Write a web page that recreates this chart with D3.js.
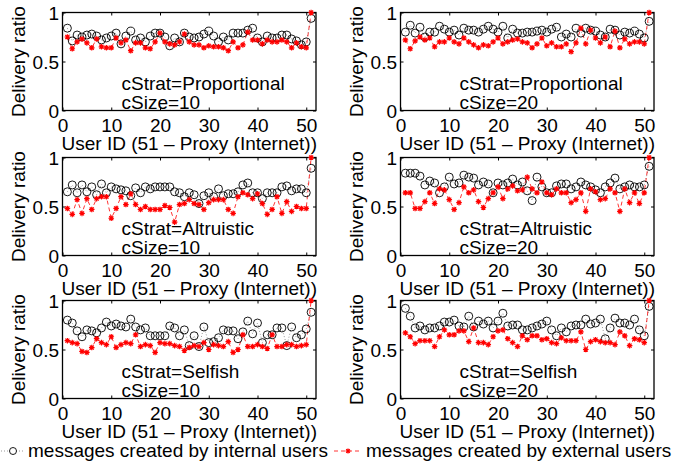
<!DOCTYPE html>
<html>
<head>
<meta charset="utf-8">
<script src="https://cdnjs.cloudflare.com/ajax/libs/d3/7.8.5/d3.min.js"></script>
<style>
  body { margin: 0; background: #fff; }
  text { font-family: "Liberation Sans", Arial, sans-serif; }
</style>
</head>
<body>
<div id="chart"></div>
<script>
// user ids on the x axis (51 = proxy)
var userIds = d3.range(1, 52);

// delivery ratios, one array per panel and series
var internalProp10 = [0.84,0.71,0.77,0.75,0.77,0.78,0.76,0.72,0.74,0.76, 0.79,0.68,0.76,0.81,0.72,0.74,0.70,0.76,0.79,0.79,
  0.75,0.66,0.74,0.70,0.79,0.75,0.74,0.75,0.78,0.81, 0.76,0.70,0.75,0.72,0.79,0.79,0.79,0.82,0.84,0.74,
  0.70,0.76,0.74,0.74,0.77,0.77,0.73,0.71,0.67,0.70, 0.94];
var externalProp10 = [0.75,0.63,0.70,0.73,0.69,0.64,0.73,0.65,0.64,0.64, 0.74,0.69,0.72,0.61,0.69,0.69,0.64,0.63,0.70,0.79,
  0.70,0.68,0.67,0.70,0.78,0.70,0.67,0.67,0.64,0.66, 0.65,0.65,0.64,0.61,0.70,0.64,0.67,0.80,0.72,0.72,
  0.68,0.72,0.70,0.70,0.72,0.70,0.64,0.69,0.65,0.64, 1.0];

var internalProp20 = [0.80,0.87,0.79,0.85,0.75,0.80,0.80,0.86,0.83,0.80, 0.82,0.77,0.84,0.82,0.82,0.80,0.83,0.86,0.83,0.80,
  0.86,0.74,0.83,0.79,0.79,0.80,0.80,0.81,0.82,0.80, 0.83,0.85,0.75,0.78,0.75,0.84,0.79,0.84,0.82,0.81,
  0.77,0.75,0.83,0.82,0.77,0.80,0.79,0.81,0.78,0.74, 0.91];
var externalProp20 = [0.72,0.63,0.71,0.75,0.72,0.74,0.65,0.70,0.70,0.74, 0.70,0.68,0.74,0.70,0.67,0.64,0.67,0.66,0.70,0.74,
  0.68,0.70,0.72,0.73,0.70,0.69,0.64,0.68,0.74,0.66, 0.69,0.65,0.65,0.68,0.60,0.69,0.84,0.68,0.82,0.74,
  0.69,0.75,0.65,0.81,0.64,0.73,0.68,0.70,0.70,0.68, 1.0];

var internalAlt10 = [0.65,0.72,0.64,0.72,0.65,0.70,0.62,0.73,0.64,0.70, 0.68,0.67,0.66,0.61,0.69,0.64,0.70,0.68,0.70,0.70,
  0.70,0.70,0.65,0.64,0.60,0.64,0.62,0.53,0.61,0.64, 0.60,0.68,0.61,0.63,0.63,0.65,0.72,0.74,0.64,0.64,
  0.58,0.64,0.64,0.64,0.70,0.71,0.66,0.68,0.68,0.64, 0.89];
var externalAlt10 = [0.48,0.42,0.57,0.43,0.58,0.47,0.58,0.60,0.60,0.38, 0.48,0.60,0.52,0.63,0.52,0.47,0.50,0.47,0.47,0.47,
  0.51,0.49,0.34,0.52,0.53,0.57,0.53,0.52,0.47,0.54, 0.57,0.57,0.57,0.47,0.43,0.60,0.64,0.62,0.58,0.63,
  0.53,0.42,0.47,0.60,0.43,0.55,0.45,0.50,0.48,0.48, 1.0];

var internalAlt20 = [0.84,0.84,0.84,0.81,0.72,0.76,0.74,0.64,0.70,0.80, 0.73,0.74,0.82,0.80,0.79,0.72,0.75,0.73,0.64,0.74,
  0.72,0.74,0.78,0.72,0.75,0.66,0.56,0.80,0.70,0.64, 0.64,0.71,0.73,0.73,0.68,0.70,0.75,0.72,0.70,0.67,
  0.64,0.70,0.74,0.79,0.68,0.70,0.72,0.70,0.70,0.72, 0.91];
var externalAlt20 = [0.64,0.64,0.48,0.48,0.55,0.64,0.53,0.68,0.67,0.57, 0.47,0.54,0.70,0.64,0.67,0.55,0.49,0.58,0.64,0.70,
  0.58,0.68,0.71,0.66,0.67,0.80,0.68,0.64,0.75,0.64, 0.62,0.68,0.64,0.64,0.54,0.57,0.64,0.45,0.68,0.65,
  0.57,0.58,0.68,0.64,0.45,0.68,0.54,0.64,0.53,0.64, 1.0];

var internalSelf10 = [0.80,0.77,0.69,0.63,0.70,0.69,0.67,0.72,0.78,0.74, 0.76,0.74,0.73,0.81,0.73,0.70,0.72,0.64,0.64,0.64,
  0.64,0.74,0.72,0.64,0.70,0.54,0.64,0.53,0.73,0.57, 0.58,0.62,0.70,0.69,0.69,0.61,0.68,0.79,0.66,0.77,
  0.57,0.65,0.65,0.72,0.72,0.54,0.73,0.62,0.65,0.71, 0.88];
var externalSelf10 = [0.59,0.57,0.56,0.48,0.47,0.52,0.61,0.57,0.55,0.63, 0.52,0.55,0.57,0.56,0.65,0.53,0.55,0.54,0.47,0.57,
  0.56,0.56,0.54,0.53,0.49,0.52,0.54,0.53,0.57,0.50, 0.55,0.54,0.53,0.58,0.47,0.50,0.65,0.53,0.53,0.55,
  0.53,0.51,0.65,0.53,0.53,0.55,0.55,0.53,0.54,0.55, 1.0];

var internalSelf20 = [0.92,0.84,0.72,0.74,0.70,0.72,0.72,0.74,0.78,0.78, 0.80,0.74,0.73,0.84,0.73,0.79,0.76,0.79,0.72,0.79,
  0.87,0.74,0.75,0.75,0.70,0.70,0.72,0.74,0.76,0.79, 0.70,0.64,0.72,0.68,0.74,0.75,0.75,0.81,0.76,0.77,
  0.81,0.61,0.72,0.82,0.77,0.77,0.75,0.81,0.70,0.64, 0.94];
var externalSelf20 = [0.67,0.63,0.56,0.59,0.59,0.59,0.53,0.63,0.70,0.65, 0.65,0.69,0.69,0.58,0.72,0.57,0.57,0.55,0.63,0.69,
  0.70,0.61,0.57,0.53,0.64,0.60,0.64,0.64,0.60,0.61, 0.57,0.56,0.62,0.59,0.59,0.59,0.68,0.50,0.58,0.60,
  0.58,0.57,0.57,0.55,0.68,0.64,0.54,0.61,0.60,0.57, 1.0];

var stratLabels = ['Proportional', 'Proportional', 'Altruistic', 'Altruistic', 'Selfish', 'Selfish'];
var sizeLabels = [10, 20, 10, 20, 10, 20];
var internalSeries = [internalProp10, internalProp20, internalAlt10, internalAlt20, internalSelf10, internalSelf20];
var externalSeries = [externalProp10, externalProp20, externalAlt10, externalAlt20, externalSelf10, externalSelf20];

var xTicks = [0, 10, 20, 30, 40, 50];
var yTicks = [0, 0.5, 1];

// canvas
var svg_width = 678,
    svg_height = 466,
    col_left = [62.5, 400.5],
    row_top = [12.5, 157.5, 300.5],
    plot_w = 253.5,
    plot_h = 98,
    font_size = 19;

var svg = d3.select('#chart')
  .append('svg')
  .attr('width', svg_width)
  .attr('height', svg_height);

// matlab style asterisk
function starPath(s) {
  var a = s * 0.72;
  return 'M' + (-s) + ',0L' + s + ',0M0,' + (-s) + 'L0,' + s +
    'M' + (-a) + ',' + (-a) + 'L' + a + ',' + a + 'M' + (-a) + ',' + a + 'L' + a + ',' + (-a);
}

function drawPanel(p) {
  var pl = col_left[p % 2],
      pt = row_top[Math.floor(p / 2)];

  var x = d3.scaleLinear().domain([0, 52]).range([pl, pl + plot_w]);
  var y = d3.scaleLinear().domain([0, 1]).range([pt + plot_h, pt]);

  var g = svg.append('g').classed('panel', true);

  // box
  g.append('rect')
    .attr('x', pl)
    .attr('y', pt)
    .attr('width', plot_w)
    .attr('height', plot_h)
    .attr('fill', 'none')
    .attr('stroke', 'black')
    .attr('stroke-width', 1.3);

  // axes with inward ticks
  g.append('g')
    .attr('transform', 'translate(0,' + (pt + plot_h) + ')')
    .call(d3.axisBottom(x).tickValues(xTicks).tickSizeInner(-3).tickSizeOuter(0).tickPadding(8.5));
  var yAxis = g.append('g')
    .attr('transform', 'translate(' + pl + ',0)')
    .call(d3.axisLeft(y).tickValues(yTicks).tickSizeInner(-3).tickSizeOuter(0).tickPadding(3.5)
      .tickFormat(function (d) { return String(d); }));
  g.append('g')
    .attr('transform', 'translate(0,' + pt + ')')
    .call(d3.axisTop(x).tickValues(xTicks).tickSizeInner(-3).tickSizeOuter(0).tickFormat(''));
  g.append('g')
    .attr('transform', 'translate(' + (pl + plot_w) + ',0)')
    .call(d3.axisRight(y).tickValues(yTicks).tickSizeInner(-3).tickSizeOuter(0).tickFormat(''));

  g.selectAll('.domain').remove();
  g.selectAll('.tick line').attr('stroke', 'black').attr('stroke-width', 1);
  g.selectAll('.tick text')
    .attr('fill', 'black')
    .style('font-size', font_size + 'px')
    .style('font-family', '"Liberation Sans", Arial, sans-serif');
  yAxis.selectAll('.tick text').attr('dy', '0.38em');

  // axis titles
  g.append('text')
    .attr('x', pl + plot_w / 2)
    .attr('y', pt + plot_h + 39)
    .attr('text-anchor', 'middle')
    .style('font-size', font_size + 'px')
    .text('User ID (51 \u2013 Proxy (Internet))');
  g.append('text')
    .attr('transform', 'translate(' + (pl - 37.5) + ',' + (pt + plot_h / 2) + ') rotate(-90)')
    .attr('text-anchor', 'middle')
    .style('font-size', font_size + 'px')
    .text('Delivery ratio');

  var internal = internalSeries[p],
      external = externalSeries[p];

  var line = d3.line()
    .x(function (d, i) { return x(userIds[i]); })
    .y(function (d) { return y(d); });

  // internal users: dotted line + circles
  g.append('path')
    .datum(internal)
    .attr('d', line)
    .attr('fill', 'none')
    .attr('stroke', '#555')
    .attr('stroke-width', 0.6)
    .attr('stroke-dasharray', '1,2');

  // external users: red dashed line + asterisks
  g.append('path')
    .datum(external)
    .attr('d', line)
    .attr('fill', 'none')
    .attr('stroke', 'red')
    .attr('stroke-width', 0.8)
    .attr('stroke-dasharray', '4,3');

  g.selectAll('.circ')
    .data(internal)
    .enter().append('circle')
    .attr('cx', function (d, i) { return x(userIds[i]); })
    .attr('cy', function (d) { return y(d); })
    .attr('r', 4)
    .attr('fill', 'none')
    .attr('stroke', 'black')
    .attr('stroke-width', 0.9);

  g.selectAll('.star')
    .data(external)
    .enter().append('path')
    .attr('d', starPath(2.8))
    .attr('transform', function (d, i) { return 'translate(' + x(userIds[i]) + ',' + y(d) + ')'; })
    .attr('fill', 'none')
    .attr('stroke', 'red')
    .attr('stroke-width', 1.2);

  // annotation
  g.append('text')
    .attr('x', pl + 59)
    .attr('y', pt + plot_h - 21)
    .style('font-size', font_size + 'px')
    .text('cStrat=' + stratLabels[p]);
  g.append('text')
    .attr('x', pl + 59)
    .attr('y', pt + plot_h - 1.5)
    .style('font-size', font_size + 'px')
    .text('cSize=' + sizeLabels[p]);
}

for (var p = 0; p < 6; p++) drawPanel(p);

// legend
var legend = svg.append('g').classed('legend', true);
var ly = 451;
legend.append('line')
  .attr('x1', 1).attr('x2', 25).attr('y1', ly).attr('y2', ly)
  .attr('stroke', '#555').attr('stroke-width', 0.6).attr('stroke-dasharray', '1,2');
legend.append('circle')
  .attr('cx', 13).attr('cy', ly).attr('r', 3.5)
  .attr('fill', 'white').attr('stroke', 'black').attr('stroke-width', 0.9);
legend.append('text')
  .attr('x', 28).attr('y', 457)
  .style('font-size', font_size + 'px')
  .text('messages created by internal users');
legend.append('line')
  .attr('x1', 334).attr('x2', 362).attr('y1', ly).attr('y2', ly)
  .attr('stroke', 'red').attr('stroke-width', 0.8).attr('stroke-dasharray', '4,3');
legend.append('path')
  .attr('d', starPath(2.5))
  .attr('transform', 'translate(348,' + ly + ')')
  .attr('fill', 'none').attr('stroke', 'red').attr('stroke-width', 1.2);
legend.append('text')
  .attr('x', 366).attr('y', 457)
  .style('font-size', font_size + 'px')
  .text('messages created by external users');
</script>
</body>
</html>
